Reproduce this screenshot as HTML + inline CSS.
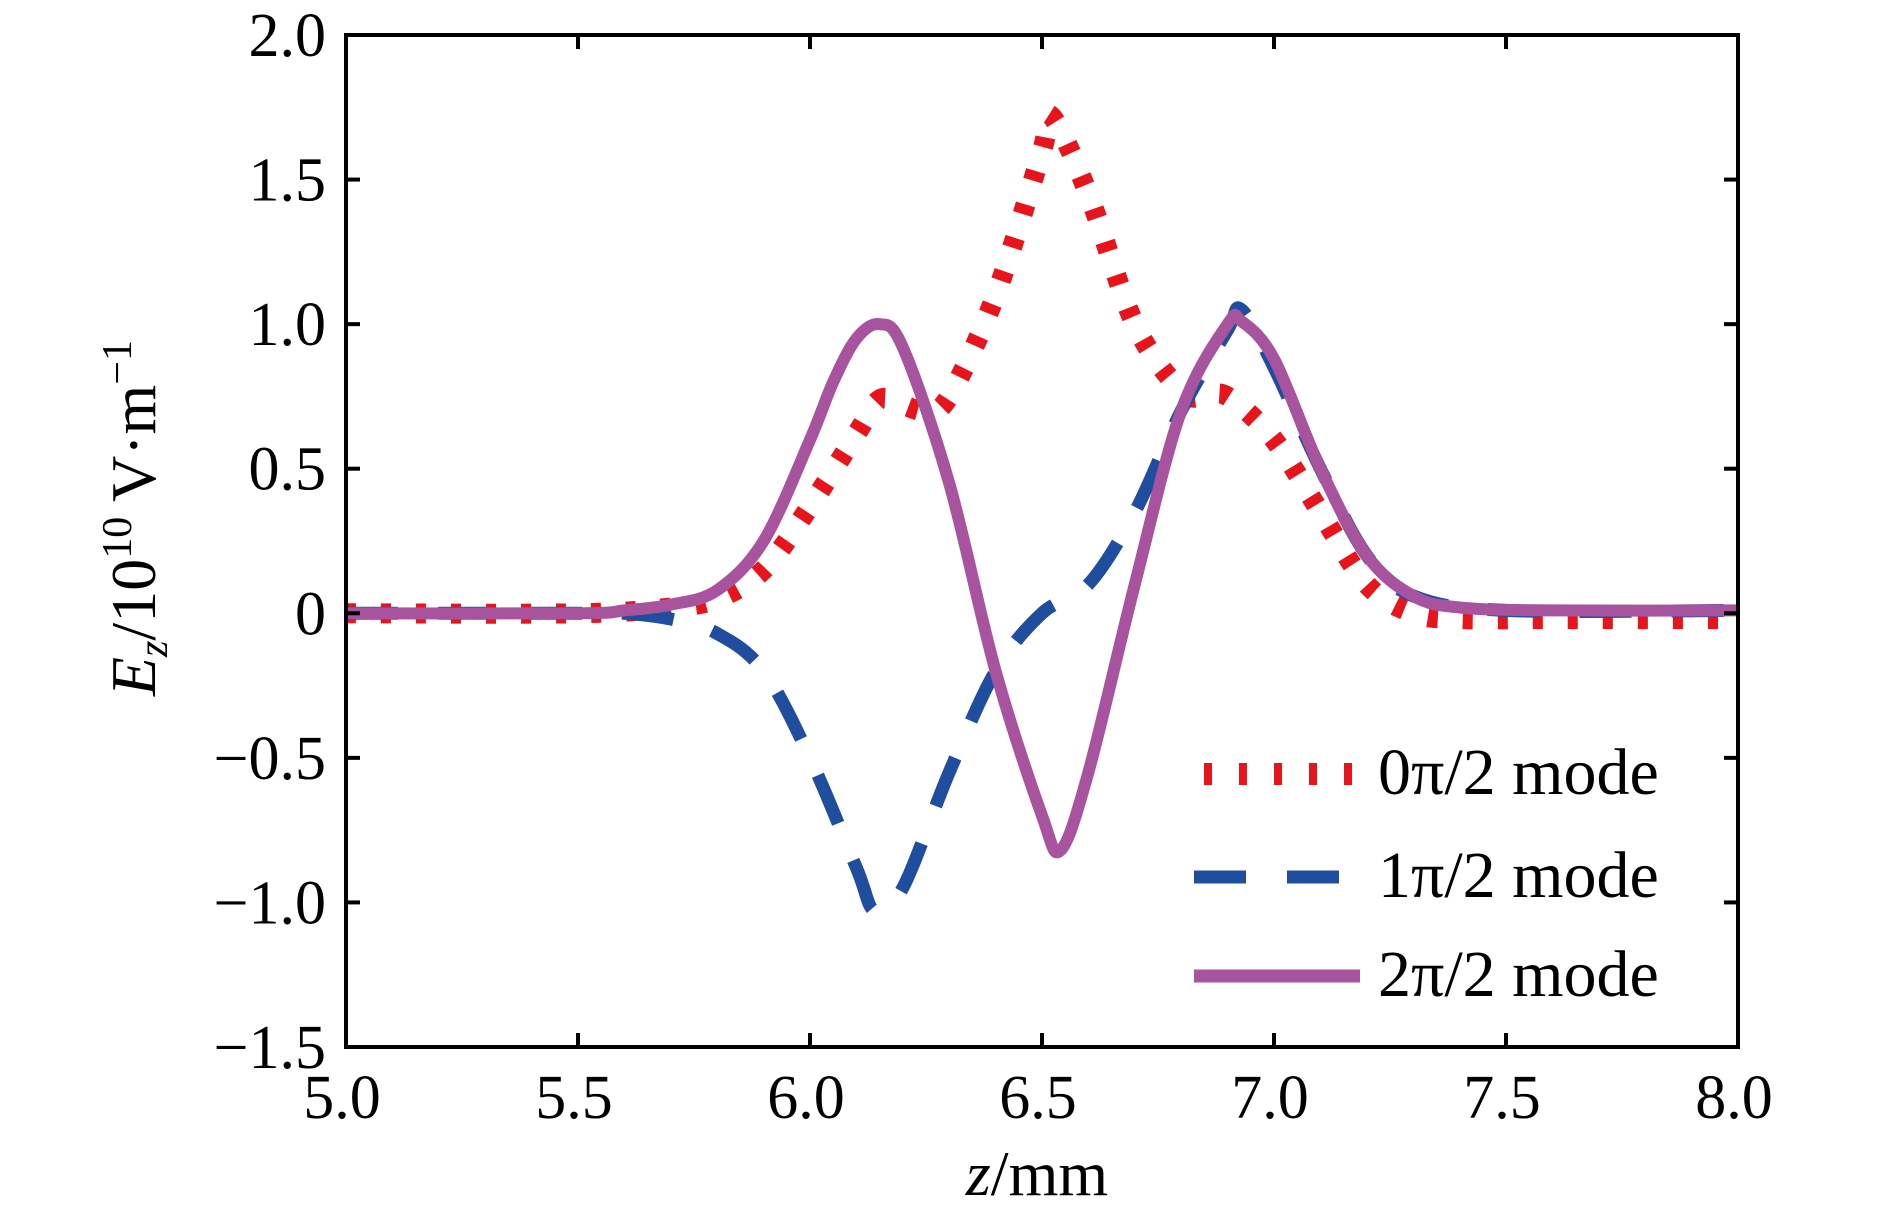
<!DOCTYPE html>
<html><head><meta charset="utf-8"><style>
html,body{margin:0;padding:0;background:#fff;}
svg{display:block;}
text{font-family:"Liberation Serif","DejaVu Serif",serif;fill:#000;}
</style></head><body>
<svg id="chart" width="1890" height="1217" viewBox="0 0 1890 1217" xmlns="http://www.w3.org/2000/svg">
<g id="series"></g>
<rect x="346" y="35" width="1392" height="1012" fill="none" stroke="#000" stroke-width="4"/>
<g id="ticks"></g>
<g id="labels"></g>
<text x="1037" y="1195" font-size="64" text-anchor="middle"><tspan font-style="italic">z</tspan>/mm</text>
<text transform="translate(155,518) rotate(-90)" font-size="64" text-anchor="middle"><tspan font-style="italic">E</tspan><tspan font-style="italic" font-size="42" dy="12">z</tspan><tspan dy="-12">/10</tspan><tspan font-size="42" dy="-24">10</tspan><tspan dy="24"> V·m</tspan><tspan font-size="42" dy="-24">−1</tspan></text>
<g>
<g>
<line x1="1194" y1="774" x2="1352" y2="774" stroke="#e8141c" stroke-width="22" stroke-dasharray="8 27" stroke-dashoffset="-10"/>
<text x="1378" y="794" font-size="66">0π/2 mode</text></g>
<g>
<line x1="1194" y1="877" x2="1352" y2="877" stroke="#1f4e9e" stroke-width="13" stroke-dasharray="52 41"/>
<text x="1378" y="897" font-size="66">1π/2 mode</text></g>
<g>
<line x1="1194" y1="976" x2="1360" y2="976" stroke="#a8539e" stroke-width="13"/>
<text x="1378" y="996" font-size="66">2π/2 mode</text></g>
</g>
</svg>
<script>
const xTicks=[5.0,5.5,6.0,6.5,7.0,7.5,8.0];
const xTickLabels=["5.0","5.5","6.0","6.5","7.0","7.5","8.0"];
const yTicks=[2.0,1.5,1.0,0.5,0,-0.5,-1.0,-1.5];
const yTickLabels=["2.0","1.5","1.0","0.5","0","−0.5","−1.0","−1.5"];
const redZ=[5.0,5.5,5.7,5.8,5.9,6.0,6.1,6.15,6.2,6.25,6.3,6.4,6.5,6.52,6.6,6.7,6.8,6.85,6.9,7.0,7.1,7.2,7.3,7.4,7.6,8.0];
const redV=[0.0,0.0,0.02,0.05,0.15,0.37,0.62,0.74,0.72,0.70,0.75,1.1,1.6,1.72,1.45,1.0,0.77,0.75,0.75,0.6,0.35,0.1,0.0,-0.02,-0.02,-0.02];
const blueZ=[5.0,5.5,5.6,5.7,5.8,5.9,6.0,6.1,6.14,6.2,6.3,6.4,6.5,6.6,6.7,6.8,6.9,6.93,7.0,7.1,7.2,7.3,7.5,8.0];
const blueV=[0.0,0.0,0.0,-0.02,-0.07,-0.2,-0.5,-0.88,-1.03,-0.95,-0.55,-0.2,0.0,0.1,0.35,0.7,0.98,1.05,0.85,0.5,0.2,0.06,0.01,0.01];
const purpleZ=[5.0,5.5,5.6,5.7,5.8,5.9,6.0,6.05,6.1,6.15,6.2,6.3,6.4,6.5,6.54,6.6,6.7,6.8,6.9,6.93,7.0,7.1,7.2,7.3,7.4,7.6,8.0];
const purpleV=[0.0,0.0,0.01,0.03,0.08,0.25,0.6,0.8,0.95,1.0,0.92,0.45,-0.2,-0.7,-0.82,-0.55,0.1,0.7,1.0,1.01,0.88,0.5,0.2,0.06,0.02,0.01,0.01];
const NS='http://www.w3.org/2000/svg';
const X0=346,X1=1738,Y0=35,Y1=1047;
function sx(z){return X0+(z-5)/3*(X1-X0);}
function sy(v){return Y0+(2-v)/3.5*(Y1-Y0);}
function path(zs,vs){
  const p=zs.map((z,i)=>[sx(z),sy(vs[i])]);
  let d='M'+p[0][0]+','+p[0][1];
  for(let i=0;i<p.length-1;i++){
    const a=p[Math.max(0,i-1)],b=p[i],c=p[i+1],e=p[Math.min(p.length-1,i+2)];
    const c1=[b[0]+(c[0]-a[0])/6,b[1]+(c[1]-a[1])/6];
    const c2=[c[0]-(e[0]-b[0])/6,c[1]-(e[1]-b[1])/6];
    d+=' C'+c1[0]+','+c1[1]+' '+c2[0]+','+c2[1]+' '+c[0]+','+c[1];
  }
  return d;
}
const sg=document.getElementById('series');
function addSeries(zs,vs,color,w,dash,name){
  const el=document.createElementNS(NS,'path');
  el.setAttribute('d',path(zs,vs));
  el.setAttribute('fill','none');el.setAttribute('stroke',color);el.setAttribute('stroke-width',w);
  if(dash)el.setAttribute('stroke-dasharray',dash);
  
  
  sg.appendChild(el);
}
addSeries(redZ,redV,'#e8141c',20,'10 25','series-0pi-mode');
addSeries(blueZ,blueV,'#1f4e9e',13,'52 40','series-1pi-mode');
addSeries(purpleZ,purpleV,'#a8539e',12,null,'series-2pi-mode');
const tg=document.getElementById('ticks'),lg=document.getElementById('labels');
function tick(x1,y1,x2,y2,name){
  const l=document.createElementNS(NS,'line');
  l.setAttribute('x1',x1);l.setAttribute('y1',y1);l.setAttribute('x2',x2);l.setAttribute('y2',y2);
  l.setAttribute('stroke','#000');l.setAttribute('stroke-width','4');
  
  
  tg.appendChild(l);
}
xTicks.forEach((z,i)=>{
  const x=sx(z);
  tick(x,Y1,x,Y1-14,'x-tick');tick(x,Y0,x,Y0+14,'x-tick-top');
  const t=document.createElementNS(NS,'text');
  t.setAttribute('x',x-4);t.setAttribute('y',1118);t.setAttribute('font-size','62');t.setAttribute('text-anchor','middle');
  t.textContent=xTickLabels[i];
  
  
  lg.appendChild(t);
});
yTicks.forEach((v,i)=>{
  const y=sy(v);
  tick(X0,y,X0+14,y,'y-tick');tick(X1,y,X1-14,y,'y-tick-right');
  const t=document.createElementNS(NS,'text');
  t.setAttribute('x',326);t.setAttribute('y',y+21);t.setAttribute('font-size','62');t.setAttribute('text-anchor','end');
  t.textContent=yTickLabels[i];
  
  
  lg.appendChild(t);
});
</script>
</body></html>
